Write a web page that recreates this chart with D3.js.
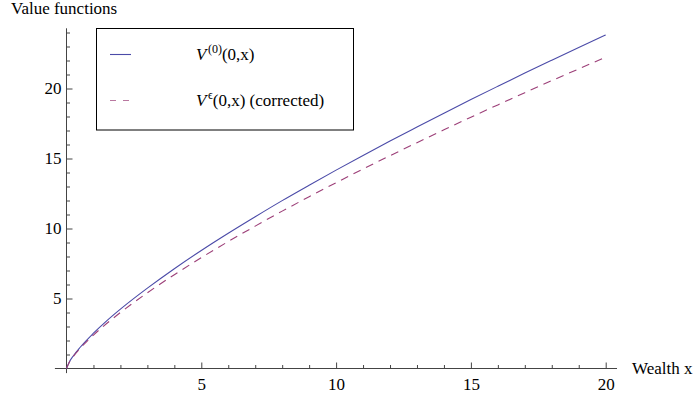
<!DOCTYPE html>
<html>
<head>
<meta charset="utf-8">
<script src="https://cdn.jsdelivr.net/npm/d3@7"></script>
<style>
  body { margin: 0; background: #fff; }
  svg { display: block; }
</style>
</head>
<body>
<div id="chart"></div>
<script>
// Data
const wealth = [0, 0.1, 0.25, 0.5, 1, 1.5, 2, 3, 4, 5, 6, 7, 8, 9, 10, 11, 12, 13, 14, 15, 16, 17, 18, 19, 20];
const v0 = [0, 0.45, 0.89, 1.50, 2.52, 3.42, 4.24, 5.74, 7.13, 8.43, 9.66, 10.84, 11.99, 13.09, 14.17, 15.22, 16.25, 17.25, 18.24, 19.21, 20.16, 21.10, 22.02, 22.93, 23.83];
const vEps = [0, 0.43, 0.85, 1.42, 2.39, 3.23, 4.00, 5.41, 6.70, 7.92, 9.07, 10.17, 11.24, 12.27, 13.27, 14.25, 15.20, 16.13, 17.05, 17.95, 18.83, 19.70, 20.56, 21.40, 22.24];
const xMajorTicks = [5, 10, 15, 20];
const yMajorTicks = [5, 10, 15, 20];
const xMinorTicks = d3.range(1, 21).filter(d => d % 5 !== 0);
const yMinorTicks = d3.range(1, 25).filter(d => d % 5 !== 0);

const width = 696;
const height = 398;
const fontSize = "17px";
const serif = "'Liberation Serif', 'Times New Roman', Times, serif";

// Scales
const x = d3.scaleLinear().domain([0, 20]).range([66.5, 605.7]);
const y = d3.scaleLinear().domain([0, 20]).range([368.5, 88.5]);

const svg = d3.select("#chart")
  .append("svg")
  .attr("width", width)
  .attr("height", height)
  .style("font-family", serif);

const axisColor = "#444";

// Axis lines (they run a bit past the origin)
svg.append("line")
  .attr("x1", x(-0.43)).attr("x2", x(20.42))
  .attr("y1", y(0)).attr("y2", y(0))
  .attr("stroke", axisColor).attr("stroke-width", 1);

svg.append("line")
  .attr("x1", x(0)).attr("x2", x(0))
  .attr("y1", y(-0.33)).attr("y2", y(24.3))
  .attr("stroke", axisColor).attr("stroke-width", 1);

// x ticks: minor then major
svg.append("g")
  .attr("transform", `translate(0,${y(0)})`)
  .call(d3.axisBottom(x).tickValues(xMinorTicks).tickSize(-3.5).tickFormat(""))
  .call(g => g.select(".domain").remove());

svg.append("g")
  .attr("transform", `translate(0,${y(0)})`)
  .call(d3.axisBottom(x).tickValues(xMajorTicks).tickSize(-6).tickPadding(9))
  .call(g => g.select(".domain").remove())
  .selectAll(".tick text")
  .style("font-family", serif)
  .style("font-size", fontSize);

// y ticks
svg.append("g")
  .attr("transform", `translate(${x(0)},0)`)
  .call(d3.axisLeft(y).tickValues(yMinorTicks).tickSize(-3.5).tickFormat(""))
  .call(g => g.select(".domain").remove());

svg.append("g")
  .attr("transform", `translate(${x(0)},0)`)
  .call(d3.axisLeft(y).tickValues(yMajorTicks).tickSize(-6).tickPadding(5))
  .call(g => g.select(".domain").remove())
  .selectAll(".tick text")
  .style("font-family", serif)
  .style("font-size", fontSize);

svg.selectAll(".tick line").attr("stroke", axisColor);

// Axis labels
svg.append("text")
  .attr("x", 11)
  .attr("y", 13.5)
  .style("font-family", serif)
  .style("font-size", fontSize)
  .text("Value functions");

svg.append("text")
  .attr("x", 632)
  .attr("y", 373.5)
  .style("font-family", serif)
  .style("font-size", fontSize)
  .text("Wealth x");

// Curves
const line = d3.line()
  .x((d, i) => x(wealth[i]))
  .y(d => y(d))
  .curve(d3.curveMonotoneX);

const blue = "#4b4ba8";
const purple = "#9c3f78";

svg.append("path")
  .datum(v0)
  .attr("fill", "none")
  .attr("stroke", blue)
  .attr("stroke-width", 1.1)
  .attr("d", line);

svg.append("path")
  .datum(vEps)
  .attr("fill", "none")
  .attr("stroke", purple)
  .attr("stroke-width", 1.1)
  .attr("stroke-dasharray", "8,6")
  .attr("d", line);

// Legend
const legend = svg.append("g");
legend.append("rect")
  .attr("x", 96.5).attr("y", 28.5)
  .attr("width", 257).attr("height", 101.5)
  .attr("fill", "#fff")
  .attr("stroke", "#000")
  .attr("stroke-width", 1);

legend.append("line")
  .attr("x1", 110).attr("x2", 131)
  .attr("y1", 54.5).attr("y2", 54.5)
  .attr("stroke", blue).attr("stroke-width", 1.1);

legend.append("line")
  .attr("x1", 110).attr("x2", 131)
  .attr("y1", 100.5).attr("y2", 100.5)
  .attr("stroke", purple).attr("stroke-width", 1.1)
  .attr("stroke-dasharray", "6,7")
  .attr("opacity", 0.7);

const t1 = legend.append("text")
  .attr("x", 196).attr("y", 59.5)
  .style("font-family", serif)
  .style("font-size", fontSize);
t1.append("tspan").style("font-style", "italic").text("V");
t1.append("tspan").attr("dx", 1.5).attr("dy", -7).style("font-size", "12px").text("(0)");
t1.append("tspan").attr("dy", 7).text("(0,x)");

const t2 = legend.append("text")
  .attr("x", 196).attr("y", 106)
  .style("font-family", serif)
  .style("font-size", fontSize);
t2.append("tspan").style("font-style", "italic").text("V");
t2.append("tspan").attr("dx", 1.5).attr("dy", -7).style("font-size", "12px").text("\u03f5");
t2.append("tspan").attr("dy", 7).text("(0,x) (corrected)");
</script>
</body>
</html>
